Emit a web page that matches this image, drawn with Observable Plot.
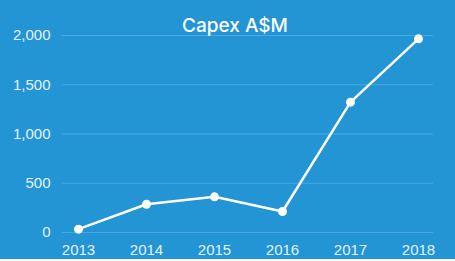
<!DOCTYPE html>
<html>
<head>
<meta charset="utf-8">
<script src="https://cdn.jsdelivr.net/npm/d3@7"></script>
<script src="https://cdn.jsdelivr.net/npm/@observablehq/plot@0.6"></script>
<style>
  html, body { margin: 0; padding: 0; background: #ffffff; }
  #chart svg { display: block; }
</style>
</head>
<body>
<div id="chart"></div>
<script>
const title = "Capex A$M";
const years = ["2013", "2014", "2015", "2016", "2017", "2018"];
const capex = [34, 287, 362, 213, 1323, 1966];
const yTicks = [0, 500, 1000, 1500, 2000];

const data = years.map((year, i) => ({year, value: capex[i]}));

const bg = "#2394d4";
const labelColor = "#e4f2fc";

const chart = Plot.plot({
  width: 455,
  height: 259,
  marginLeft: 62,
  marginRight: 22,
  marginTop: 35,
  marginBottom: 27,
  style: {
    background: bg,
    color: labelColor,
    fontFamily: "'Liberation Sans', Arial, sans-serif",
    fontSize: "15px",
    overflow: "visible"
  },
  x: {type: "point", domain: years, range: [77, 418], padding: 0},
  y: {domain: [0, 2000], range: [232, 35]},
  marks: [
    Plot.ruleY(yTicks, {stroke: "#4aa9e0", strokeWidth: 1}),
    Plot.axisY({ticks: yTicks, tickSize: 0, tickPadding: 12, tickFormat: d3.format(","), label: null, fill: labelColor, fontSize: 15}),
    Plot.axisX({tickSize: 0, tickPadding: 12, label: null, fill: labelColor, fontSize: 15}),
    Plot.line(data, {x: "year", y: "value", stroke: "#ffffff", strokeWidth: 2.5}),
    Plot.dot(data, {x: "year", y: "value", fill: "#ffffff", r: 4.5}),
    Plot.text([title], {
      frameAnchor: "top",
      lineAnchor: "top",
      text: d => d,
      dx: -13,
      dy: -17,
      fill: "#ffffff",
      fontSize: 19,
      fontWeight: 500,
      fontFamily: "Inter, 'Open Sans', sans-serif"
    })
  ]
});
document.getElementById("chart").appendChild(chart);
</script>
</body>
</html>
